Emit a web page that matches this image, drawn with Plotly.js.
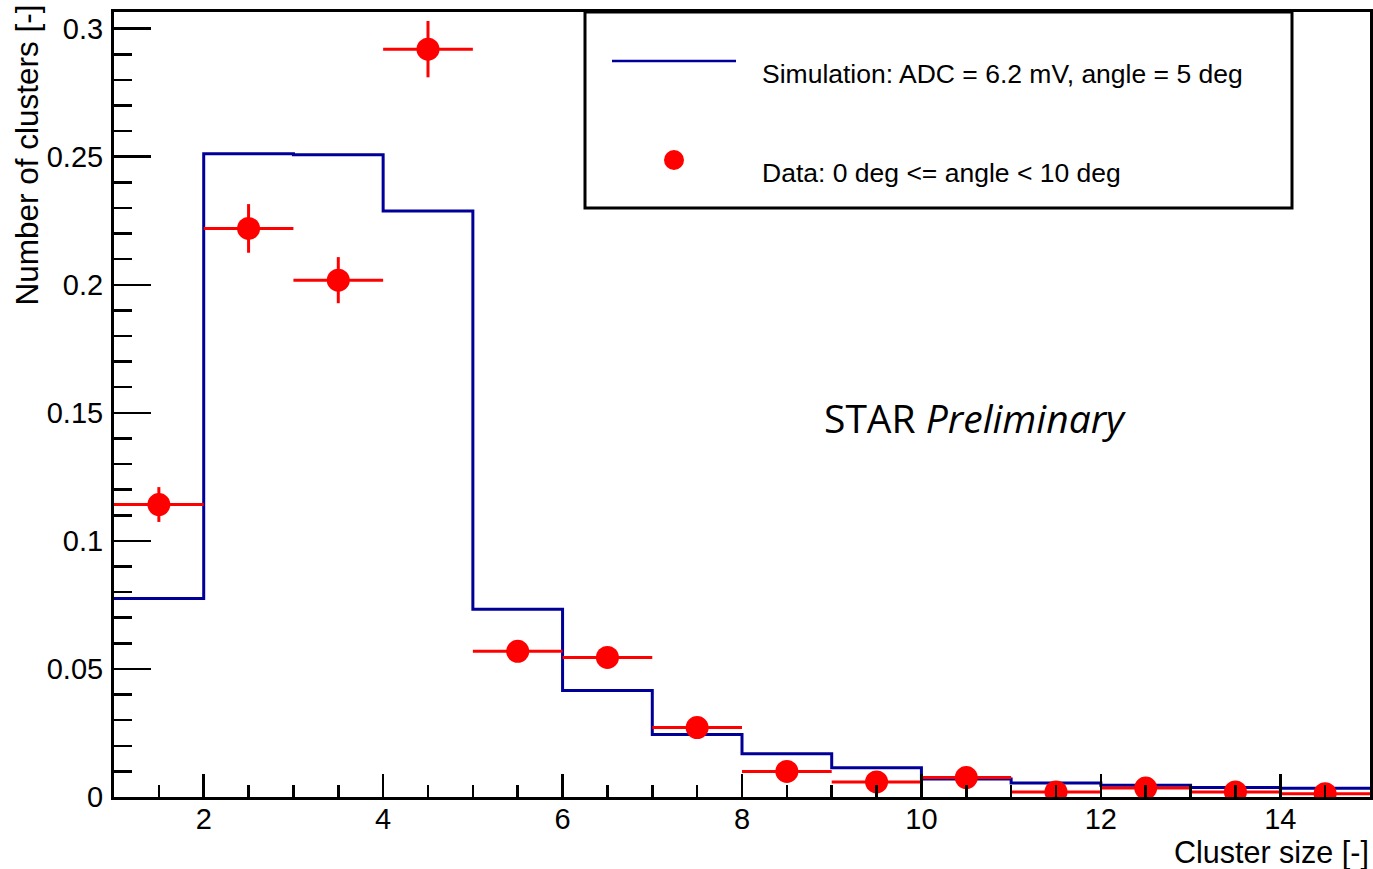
<!DOCTYPE html>
<html>
<head>
<meta charset="utf-8">
<script src="https://cdn.plot.ly/plotly-3.0.1.min.js"></script>
<style>html,body{margin:0;padding:0;background:#fff;}#chart{width:1373px;height:869px;}</style>
</head>
<body>
<div id="chart"></div>
<script>
// Bin edges (cluster size)
const binEdges = [1,2,3,4,5,6,7,8,9,10,11,12,13,14,15];
// Simulation histogram contents (ADC = 6.2 mV, angle = 5 deg)
const simValues = [0.0775, 0.2512, 0.2508, 0.2288, 0.0733, 0.0416, 0.0244, 0.0169, 0.0114, 0.0070, 0.0055, 0.0046, 0.0037, 0.0034];
// Data points (0 deg <= angle < 10 deg)
const dataX = [1.5, 2.5, 3.5, 4.5, 5.5, 6.5, 7.5, 8.5, 9.5, 10.5, 11.5, 12.5, 13.5, 14.5];
const dataY = [0.1142, 0.2220, 0.2018, 0.2920, 0.0569, 0.0545, 0.0271, 0.0100, 0.0059, 0.0076, 0.0020, 0.0035, 0.0020, 0.0013];
const dataErrY = [0.0068, 0.0095, 0.0090, 0.0110, 0.0030, 0.0030, 0.0015, 0.0010, 0.0008, 0.0008, 0.0005, 0.0005, 0.0005, 0.0005];
const dataErrX = [0.5, 0.5, 0.5, 0.5, 0.5, 0.5, 0.5, 0.5, 0.5, 0.5, 0.5, 0.5, 0.5, 0.5];

const simLabel = "Simulation: ADC = 6.2 mV, angle = 5 deg";
const dataLabel = "Data: 0 deg &lt;= angle &lt; 10 deg";
const xTitle = "Cluster size [-]";
const yTitle = "Number of clusters [-]";

const FONT = "Liberation Sans, Arial, Helvetica, sans-serif";
const BLUE = "#000099";
const RED = "#ff0000";

const simTrace = {
  type: "scatter", mode: "lines",
  x: binEdges,
  y: simValues.concat([simValues[simValues.length - 1]]),
  line: {shape: "hv", color: BLUE, width: 3},
  hoverinfo: "skip", showlegend: false
};

const dataTrace = {
  type: "scatter", mode: "markers",
  x: dataX, y: dataY,
  marker: {color: RED, size: 23, symbol: "circle"},
  error_y: {type: "data", array: dataErrY, visible: true, color: RED, thickness: 3, width: 0},
  error_x: {type: "data", array: dataErrX, visible: true, color: RED, thickness: 3, width: 0},
  showlegend: false
};

// pixel helpers for the legend box (plot area: x 114..1370, y 12..797)
const L = 114, R = 1370, T = 12, B = 797;
const px = v => (v - L) / (R - L);
const py = v => (B - v) / (B - T);

const layout = {
  width: 1373, height: 869,
  margin: {l: L, r: 1373 - R, t: T, b: 869 - B, pad: 0},
  paper_bgcolor: "#fff", plot_bgcolor: "#fff",
  font: {family: FONT, color: "#000", size: 29},
  showlegend: false,
  xaxis: {
    range: [1, 15], tick0: 0, dtick: 2, tickmode: "linear",
    ticks: "inside", ticklen: 23, tickwidth: 2.5, tickcolor: "#000",
    minor: {dtick: 0.5, tick0: 0, ticks: "inside", ticklen: 12, tickwidth: 2.5, tickcolor: "#000", showgrid: false},
    showline: true, linecolor: "#000", linewidth: 3, mirror: true,
    showgrid: false, zeroline: false,
    ticklabelstandoff: -6,
    tickfont: {family: FONT, size: 29, color: "#000"}
  },
  yaxis: {
    range: [0, 0.3065], tick0: 0, dtick: 0.05, tickmode: "linear",
    ticks: "inside", ticklen: 37, tickwidth: 2.5, tickcolor: "#000",
    minor: {dtick: 0.01, tick0: 0, ticks: "inside", ticklen: 18, tickwidth: 2.5, tickcolor: "#000", showgrid: false},
    showline: true, linecolor: "#000", linewidth: 3, mirror: true,
    showgrid: false, zeroline: false,
    ticklabelstandoff: 2,
    tickfont: {family: FONT, size: 29, color: "#000"}
  },
  shapes: [
    {type: "rect", xref: "paper", yref: "paper", x0: px(585), x1: px(1292), y0: py(208), y1: py(12),
     line: {color: "#000", width: 3}, fillcolor: "#fff", layer: "above"},
    {type: "line", xref: "paper", yref: "paper", x0: px(612), x1: px(736), y0: py(61), y1: py(61),
     line: {color: BLUE, width: 2.5}, layer: "above"},
    {type: "circle", xref: "paper", yref: "paper", x0: px(664), x1: px(684), y0: py(170), y1: py(150),
     line: {color: RED, width: 0}, fillcolor: RED, layer: "above"}
  ],
  annotations: [
    {xref: "paper", yref: "paper", x: px(760), y: py(74), xanchor: "left", yanchor: "middle",
     text: simLabel, showarrow: false, font: {family: FONT, size: 26.5, color: "#000"}},
    {xref: "paper", yref: "paper", x: px(760), y: py(173), xanchor: "left", yanchor: "middle",
     text: dataLabel, showarrow: false, font: {family: FONT, size: 26.5, color: "#000"}},
    {xref: "paper", yref: "paper", x: 1.001, y: py(852), xanchor: "right", yanchor: "middle",
     text: xTitle, showarrow: false, font: {family: FONT, size: 30.5, color: "#000"}},
    {xref: "paper", yref: "paper", x: px(26), y: py(3), xanchor: "center", yanchor: "top",
     text: yTitle, textangle: -90, showarrow: false, font: {family: FONT, size: 31.5, color: "#000"}},
    {xref: "paper", yref: "paper", x: px(822), y: py(417), xanchor: "left", yanchor: "middle",
     text: "STAR <i>Preliminary</i>", showarrow: false, font: {family: "Open Sans, Lato, sans-serif", size: 39, color: "#000"}}
  ]
};

Plotly.newPlot("chart", [simTrace, dataTrace], layout, {displayModeBar: false, staticPlot: true});
</script>
</body>
</html>
